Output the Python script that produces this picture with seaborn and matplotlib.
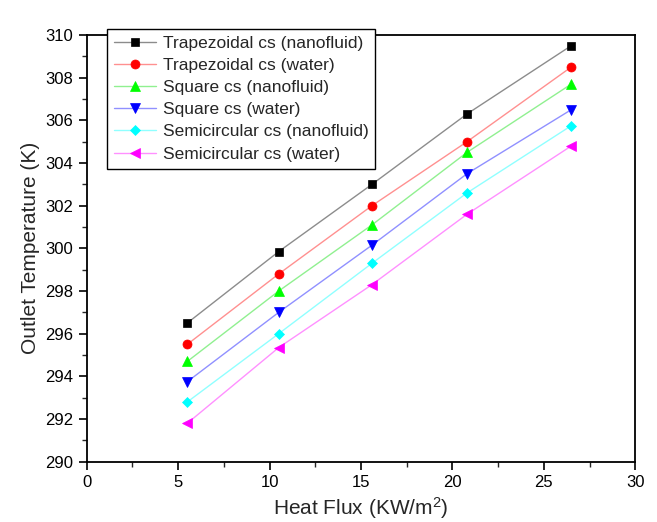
import seaborn as sns
import numpy as np
import matplotlib.pyplot as plt
from matplotlib.ticker import MultipleLocator

heat_flux = [5.5, 10.5, 15.6, 20.8, 26.5]

trap_nano = [296.5, 299.85, 303.0, 306.3, 309.5]
trap_water = [295.5, 298.8, 302.0, 305.0, 308.5]
square_nano = [294.7, 298.0, 301.1, 304.5, 307.7]
square_water = [293.75, 297.0, 300.15, 303.5, 306.5]
semi_nano = [292.8, 296.0, 299.3, 302.6, 305.75]
semi_water = [291.8, 295.35, 298.3, 301.6, 304.8]

labels = ["Trapezoidal cs (nanofluid)", "Trapezoidal cs (water)",
          "Square cs (nanofluid)", "Square cs (water)",
          "Semicircular cs (nanofluid)", "Semicircular cs (water)"]
series = [trap_nano, trap_water, square_nano, square_water, semi_nano, semi_water]

sns.set_style("ticks")
plt.rcParams['font.family'] = ['Liberation Sans', 'DejaVu Sans']
plt.rcParams['mathtext.default'] = 'regular'

colors = ["#000000", "#ff0000", "#00ff00", "#0000ff", "#00ffff", "#ff00ff"]
line_colors = ["#8c8c8c", "#ff9090", "#90f090", "#9090ff", "#90ffff", "#ff90ff"]
markers = ["s", "o", "^", "v", "D", "<"]
msizes = [6, 6.5, 7, 7, 5.5, 7]

fig = plt.figure(figsize=(6.57, 5.22), dpi=100)
ax = fig.add_axes([0.132, 0.1155, 0.835, 0.8175])

for vals, lab, c, lc, m, ms in zip(series, labels, colors, line_colors, markers, msizes):
    sns.lineplot(x=heat_flux, y=vals, ax=ax, label=lab, color=lc, linewidth=1,
                 marker=m, markersize=ms, markerfacecolor=c, markeredgecolor=c,
                 markeredgewidth=0.5)

ax.set_xlim(0, 30)
ax.set_ylim(290, 310)
ax.xaxis.set_major_locator(MultipleLocator(5))
ax.xaxis.set_minor_locator(MultipleLocator(2.5))
ax.yaxis.set_major_locator(MultipleLocator(2))
ax.yaxis.set_minor_locator(MultipleLocator(1))
ax.tick_params(which='major', direction='out', length=6, width=1.2, labelsize=12, colors='black')
ax.tick_params(which='minor', direction='out', length=3.5, width=1.0)
for sp in ax.spines.values():
    sp.set_visible(True)
    sp.set_linewidth(1.3)
    sp.set_color('black')

ax.set_xlabel("Heat Flux (KW/m$^2$)", fontsize=15)
ax.set_ylabel("Outlet Temperature (K)", fontsize=15)

leg = ax.legend(loc='upper left', bbox_to_anchor=(0.037, 1.014), fontsize=12.5,
                frameon=True, fancybox=False, edgecolor='black', framealpha=1,
                handlelength=2.4, borderpad=0.4, labelspacing=0.4, handletextpad=0.4,
                borderaxespad=0)
leg.get_frame().set_linewidth(1.0)

fig.savefig("out.png", dpi=100)
